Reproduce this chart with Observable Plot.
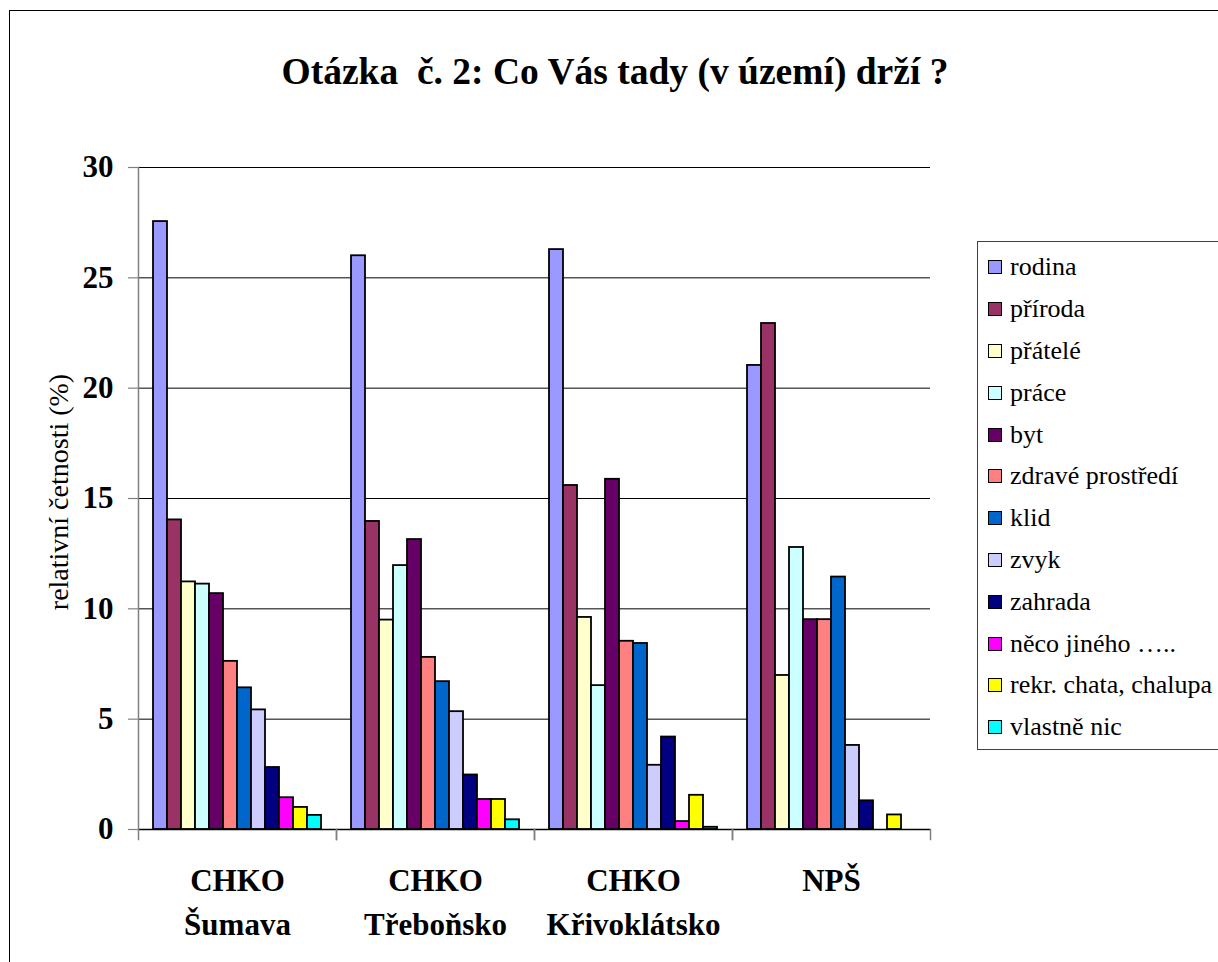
<!DOCTYPE html>
<html><head><meta charset="utf-8">
<script src="https://cdn.jsdelivr.net/npm/d3@7"></script>
<script src="https://cdn.jsdelivr.net/npm/@observablehq/plot@0.6"></script>
<style>
body{margin:0;background:#fff;overflow:hidden;}
#wrap{position:relative;width:1218px;height:962px;overflow:hidden;font-family:"Liberation Serif","Times New Roman",Tinos,"DejaVu Serif",serif;background:#fff;}
#outer{position:absolute;left:9px;top:10px;width:1400px;height:1200px;border:1.5px solid #000;box-sizing:border-box;}
#title{position:absolute;left:0;width:1230px;top:51px;text-align:center;font-weight:bold;font-size:37.5px;line-height:42px;white-space:pre;}
#ylab{position:absolute;left:59px;top:492px;transform:translate(-50%,-50%) rotate(-90deg);font-size:28px;white-space:nowrap;}
#legend{position:absolute;left:977px;top:241px;width:400px;height:509px;border:1.5px solid #404040;box-sizing:border-box;}
.li{position:absolute;left:0;height:30px;display:flex;align-items:center;font-size:26px;white-space:nowrap;}
.sw{width:12px;height:12px;border:1.5px solid #000;margin-left:10px;margin-right:8px;}
#chart{position:absolute;left:0;top:0;}
</style></head><body><div id="wrap"><div id="outer"></div><div id="title"></div><div id="ylab"></div><div id="chart"></div><div id="legend"></div></div>
<script>
const title = "Otázka  č. 2: Co Vás tady (v území) drží ?";
const yLabel = "relativní četnosti (%)";
const groups = ["CHKO\nŠumava", "CHKO\nTřeboňsko", "CHKO\nKřivoklátsko", "NPŠ"];
const categories = ["rodina", "příroda", "přátelé", "práce", "byt", "zdravé prostředí", "klid", "zvyk", "zahrada", "něco jiného …..", "rekr. chata, chalupa", "vlastně nic"];
const colors = ["#9999FF", "#993366", "#FFFFCC", "#CCFFFF", "#660066", "#FF8080", "#0066CC", "#CCCCFF", "#000080", "#FF00FF", "#FFFF00", "#00FFFF"];
const yTicks = [0, 5, 10, 15, 20, 25, 30];
const sumava = [27.55, 14.03, 11.22, 11.12, 10.69, 7.62, 6.42, 5.42, 2.81, 1.44, 1.0, 0.64];
const trebonsko = [26.0, 13.96, 9.49, 11.96, 13.14, 7.8, 6.7, 5.34, 2.47, 1.36, 1.36, 0.44];
const krivoklatsko = [26.28, 15.59, 9.61, 6.52, 15.87, 8.53, 8.43, 2.91, 4.19, 0.36, 1.55, 0.1];
const nps = [21.03, 22.93, 6.98, 12.78, 9.51, 9.51, 11.44, 3.81, 1.3, 0, 0.66, 0];

const series = [sumava, trebonsko, krivoklatsko, nps];
const rows = groups.flatMap((g, gi) => categories.map((c, ci) => ({group: g, cat: c, value: series[gi][ci]})));

document.getElementById("title").textContent = title;
document.getElementById("ylab").textContent = yLabel;

const serif = "'Liberation Serif', 'Times New Roman', Tinos, 'DejaVu Serif', serif";
const plotH = 962 - 167 - 133;
const chart = Plot.plot({
  width: 960, height: 962,
  marginLeft: 138, marginRight: 30, marginTop: 167, marginBottom: 133,
  style: {fontFamily: serif, background: "transparent", overflow: "visible", color: "black"},
  fx: {domain: groups, padding: 0},
  x: {domain: categories, paddingInner: 0, paddingOuter: 0.725, axis: null},
  y: {domain: [0, 30]},
  color: {domain: categories, range: colors},
  marks: [
    Plot.gridY(yTicks, {stroke: "black", strokeOpacity: 1, strokeWidth: 1}),
    Plot.barY(rows.filter(d => d.value > 0), {fx: "group", x: "cat", y: "value", fill: "cat", stroke: "black", strokeWidth: 1.8}),
    Plot.ruleY([0], {stroke: "black", strokeWidth: 1.5}),
    Plot.frame({anchor: "left", stroke: "#808080", strokeWidth: 1.5, insetTop: plotH, insetBottom: -10}),
    Plot.frame({anchor: "right", stroke: "#808080", strokeWidth: 1.5, insetTop: plotH, insetBottom: -10}),
    Plot.frame({anchor: "left", fx: [groups[0]], stroke: "#808080", strokeWidth: 1.5}),
    Plot.axisY(yTicks, {tickSize: 10, tickPadding: 15, fontSize: 31, fontWeight: "bold", stroke: "#808080", strokeWidth: 1.2, label: null}),
    Plot.axisFx({anchor: "bottom", tickSize: 0, tickPadding: 30, fontSize: 31, fontWeight: "bold", lineHeight: 1.42, label: null})
  ]
});
document.getElementById("chart").appendChild(chart);

const legend = document.getElementById("legend");
categories.forEach((c, i) => {
  const row = document.createElement("div");
  row.className = "li";
  row.style.top = (266.3 - 241 - 15 + 41.8 * i) + "px";
  const sw = document.createElement("div");
  sw.className = "sw";
  sw.style.background = colors[i];
  const t = document.createElement("span");
  t.textContent = c;
  row.appendChild(sw); row.appendChild(t);
  legend.appendChild(row);
});
</script></body></html>
